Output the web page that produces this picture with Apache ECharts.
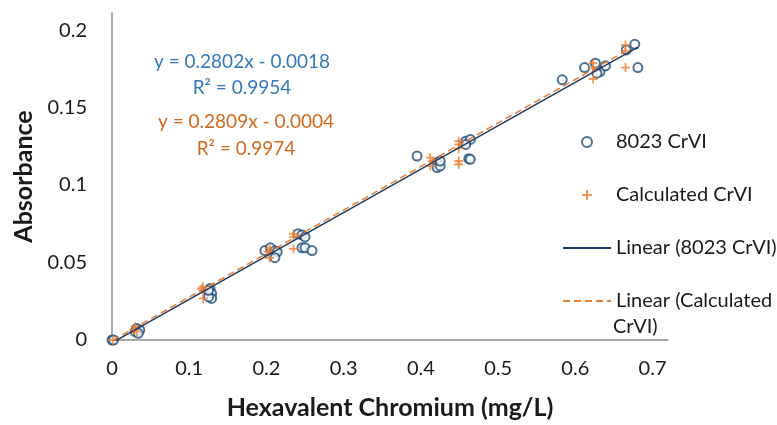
<!DOCTYPE html>
<html>
<head>
<meta charset="utf-8">
<script src="https://cdn.jsdelivr.net/npm/echarts@6/dist/echarts.min.js"></script>
<style>
  html, body { margin: 0; padding: 0; background: #fff; }
  #chart { width: 777px; height: 425px; }
</style>
</head>
<body>
<div id="chart"></div>
<script>
// 8023 CrVI readings (x: mg/L, y: absorbance)
const meterX = [0.000, 0.002, 0.032, 0.030, 0.036, 0.034,
  0.127, 0.129, 0.129, 0.125, 0.125,
  0.198, 0.205, 0.211, 0.214, 0.211, 0.241, 0.246, 0.250, 0.246, 0.250, 0.259,
  0.395, 0.421, 0.421, 0.425, 0.425, 0.458, 0.464, 0.458, 0.462, 0.464,
  0.583, 0.612, 0.626, 0.632, 0.639, 0.628, 0.666, 0.677, 0.681]
const meterY = [0.0000, 0.0000, 0.0075, 0.0054, 0.0064, 0.0043,
  0.0332, 0.0300, 0.0268, 0.0278, 0.0321,
  0.0577, 0.0595, 0.0576, 0.0569, 0.0531, 0.0685, 0.0678, 0.0665, 0.0595, 0.0595, 0.0577,
  0.1187, 0.1145, 0.1113, 0.1123, 0.1155, 0.1283, 0.1294, 0.1262, 0.1170, 0.1166,
  0.1679, 0.1758, 0.1786, 0.1732, 0.1769, 0.1722, 0.1872, 0.1908, 0.1758]

// calculated CrVI
const calcX = [0.001, 0.028, 0.030, 0.032,
  0.118, 0.118, 0.118, 0.116,
  0.204, 0.202, 0.204, 0.235, 0.235, 0.235,
  0.412, 0.412, 0.415, 0.449, 0.449, 0.449, 0.449, 0.449,
  0.623, 0.623, 0.623, 0.665, 0.665, 0.665]
const calcY = [0.0000, 0.0064, 0.0086, 0.0054,
  0.0343, 0.0321, 0.0268, 0.0332,
  0.0593, 0.0569, 0.0529, 0.0685, 0.0665, 0.0588,
  0.1177, 0.1123, 0.1153, 0.1283, 0.1262, 0.1236, 0.1155, 0.1134,
  0.1786, 0.1758, 0.1684, 0.1904, 0.1867, 0.1758]

// trendline coefficients [slope, intercept]
const meterFit = [0.2802, -0.0018]
const calcFit = [0.2809, -0.0004]

const xTicks = [0, 0.1, 0.2, 0.3, 0.4, 0.5, 0.6, 0.7]
const yTicks = [0, 0.05, 0.1, 0.15, 0.2]

const zip = (xs, ys) => xs.map((x, i) => [x, ys[i]])
const fitLine = (xs, fit) => {
  const lo = Math.min(...xs), hi = Math.max(...xs)
  return [[lo, fit[0] * lo + fit[1]], [hi, fit[0] * hi + fit[1]]]
}
const onTick = ticks => v => (ticks.some(t => Math.abs(t - v) < 1e-9) ? String(v) : '')

const FONT = 'Lato, "Liberation Sans", sans-serif'
const INK = '#1a1a1a'
const plus = 'path://M4,0H6V4H10V6H6V10H4V6H0V4H4Z'

const eq = (text, x, y, fill) => ({
  type: 'text', x, y,
  style: { text, fontSize: 19, fontFamily: FONT, fill, align: 'center', verticalAlign: 'middle' }
})

const chart = echarts.init(document.getElementById('chart'), null, { renderer: 'canvas' })
chart.setOption({
  animation: false,
  textStyle: { fontFamily: FONT },
  grid: { left: 112, right: 109, top: 13, bottom: 83 },
  xAxis: {
    type: 'value',
    min: 0,
    max: 0.72,
    interval: 0.1,
    name: 'Hexavalent Chromium (mg/L)',
    nameLocation: 'middle',
    nameGap: 55,
    nameTextStyle: { fontSize: 25, fontWeight: 'bold', color: INK, fontFamily: FONT },
    axisLine: { lineStyle: { color: '#8c8c8c', width: 1.5 } },
    axisTick: { show: false },
    splitLine: { show: false },
    axisLabel: { fontSize: 20, color: INK, margin: 19, formatter: onTick(xTicks) }
  },
  yAxis: {
    type: 'value',
    min: 0,
    max: 0.211,
    interval: 0.05,
    name: 'Absorbance',
    nameLocation: 'middle',
    nameGap: 76,
    nameTextStyle: { fontSize: 25, fontWeight: 'bold', color: INK, fontFamily: FONT },
    axisLine: { show: true, lineStyle: { color: '#8c8c8c', width: 1.5 } },
    axisTick: { show: false },
    splitLine: { show: false },
    axisLabel: { fontSize: 20, color: INK, margin: 25, formatter: onTick(yTicks) }
  },
  legend: {
    orient: 'vertical',
    left: 557,
    top: 126,
    itemWidth: 48,
    itemHeight: 10,
    itemGap: 31,
    selectedMode: false,
    textStyle: { fontSize: 20, color: INK, lineHeight: 22, fontFamily: FONT },
    formatter: n => (n === 'Linear (Calculated CrVI)' ? 'Linear (Calculated' : n),
    data: [
      '8023 CrVI',
      'Calculated CrVI',
      { name: 'Linear (8023 CrVI)', itemStyle: { opacity: 0 } },
      { name: 'Linear (Calculated CrVI)', itemStyle: { opacity: 0 } }
    ]
  },
  graphic: [
    { type: 'text', left: 613, top: 317, style: { text: 'CrVI)', fontSize: 20, fontFamily: FONT, fill: INK } },
    eq('y = 0.2802x - 0.0018', 242, 62, '#3579b8'),
    eq('R² = 0.9954', 242, 88, '#3579b8'),
    eq('y = 0.2809x - 0.0004', 246, 122, '#d2691e'),
    eq('R² = 0.9974', 246, 149, '#d2691e')
  ],
  series: [
    {
      name: '8023 CrVI',
      type: 'scatter',
      symbol: 'emptyCircle',
      symbolSize: 9,
      itemStyle: { color: '#1f4e79', borderColor: '#1f4e79', borderWidth: 2.2 },
      data: zip(meterX, meterY)
    },
    {
      name: 'Calculated CrVI',
      type: 'scatter',
      symbol: plus,
      symbolSize: 9,
      itemStyle: { color: '#ed7d31' },
      data: zip(calcX, calcY)
    },
    {
      name: 'Linear (8023 CrVI)',
      type: 'line',
      symbol: 'none',
      lineStyle: { color: '#1f3d63', width: 1.5 },
      itemStyle: { color: '#1f3d63' },
      data: fitLine(meterX, meterFit)
    },
    {
      name: 'Linear (Calculated CrVI)',
      type: 'line',
      symbol: 'none',
      lineStyle: { color: '#ed7d31', width: 1.5, type: [7, 4] },
      itemStyle: { color: '#ed7d31' },
      data: fitLine(calcX, calcFit)
    }
  ]
})
</script>
</body>
</html>
